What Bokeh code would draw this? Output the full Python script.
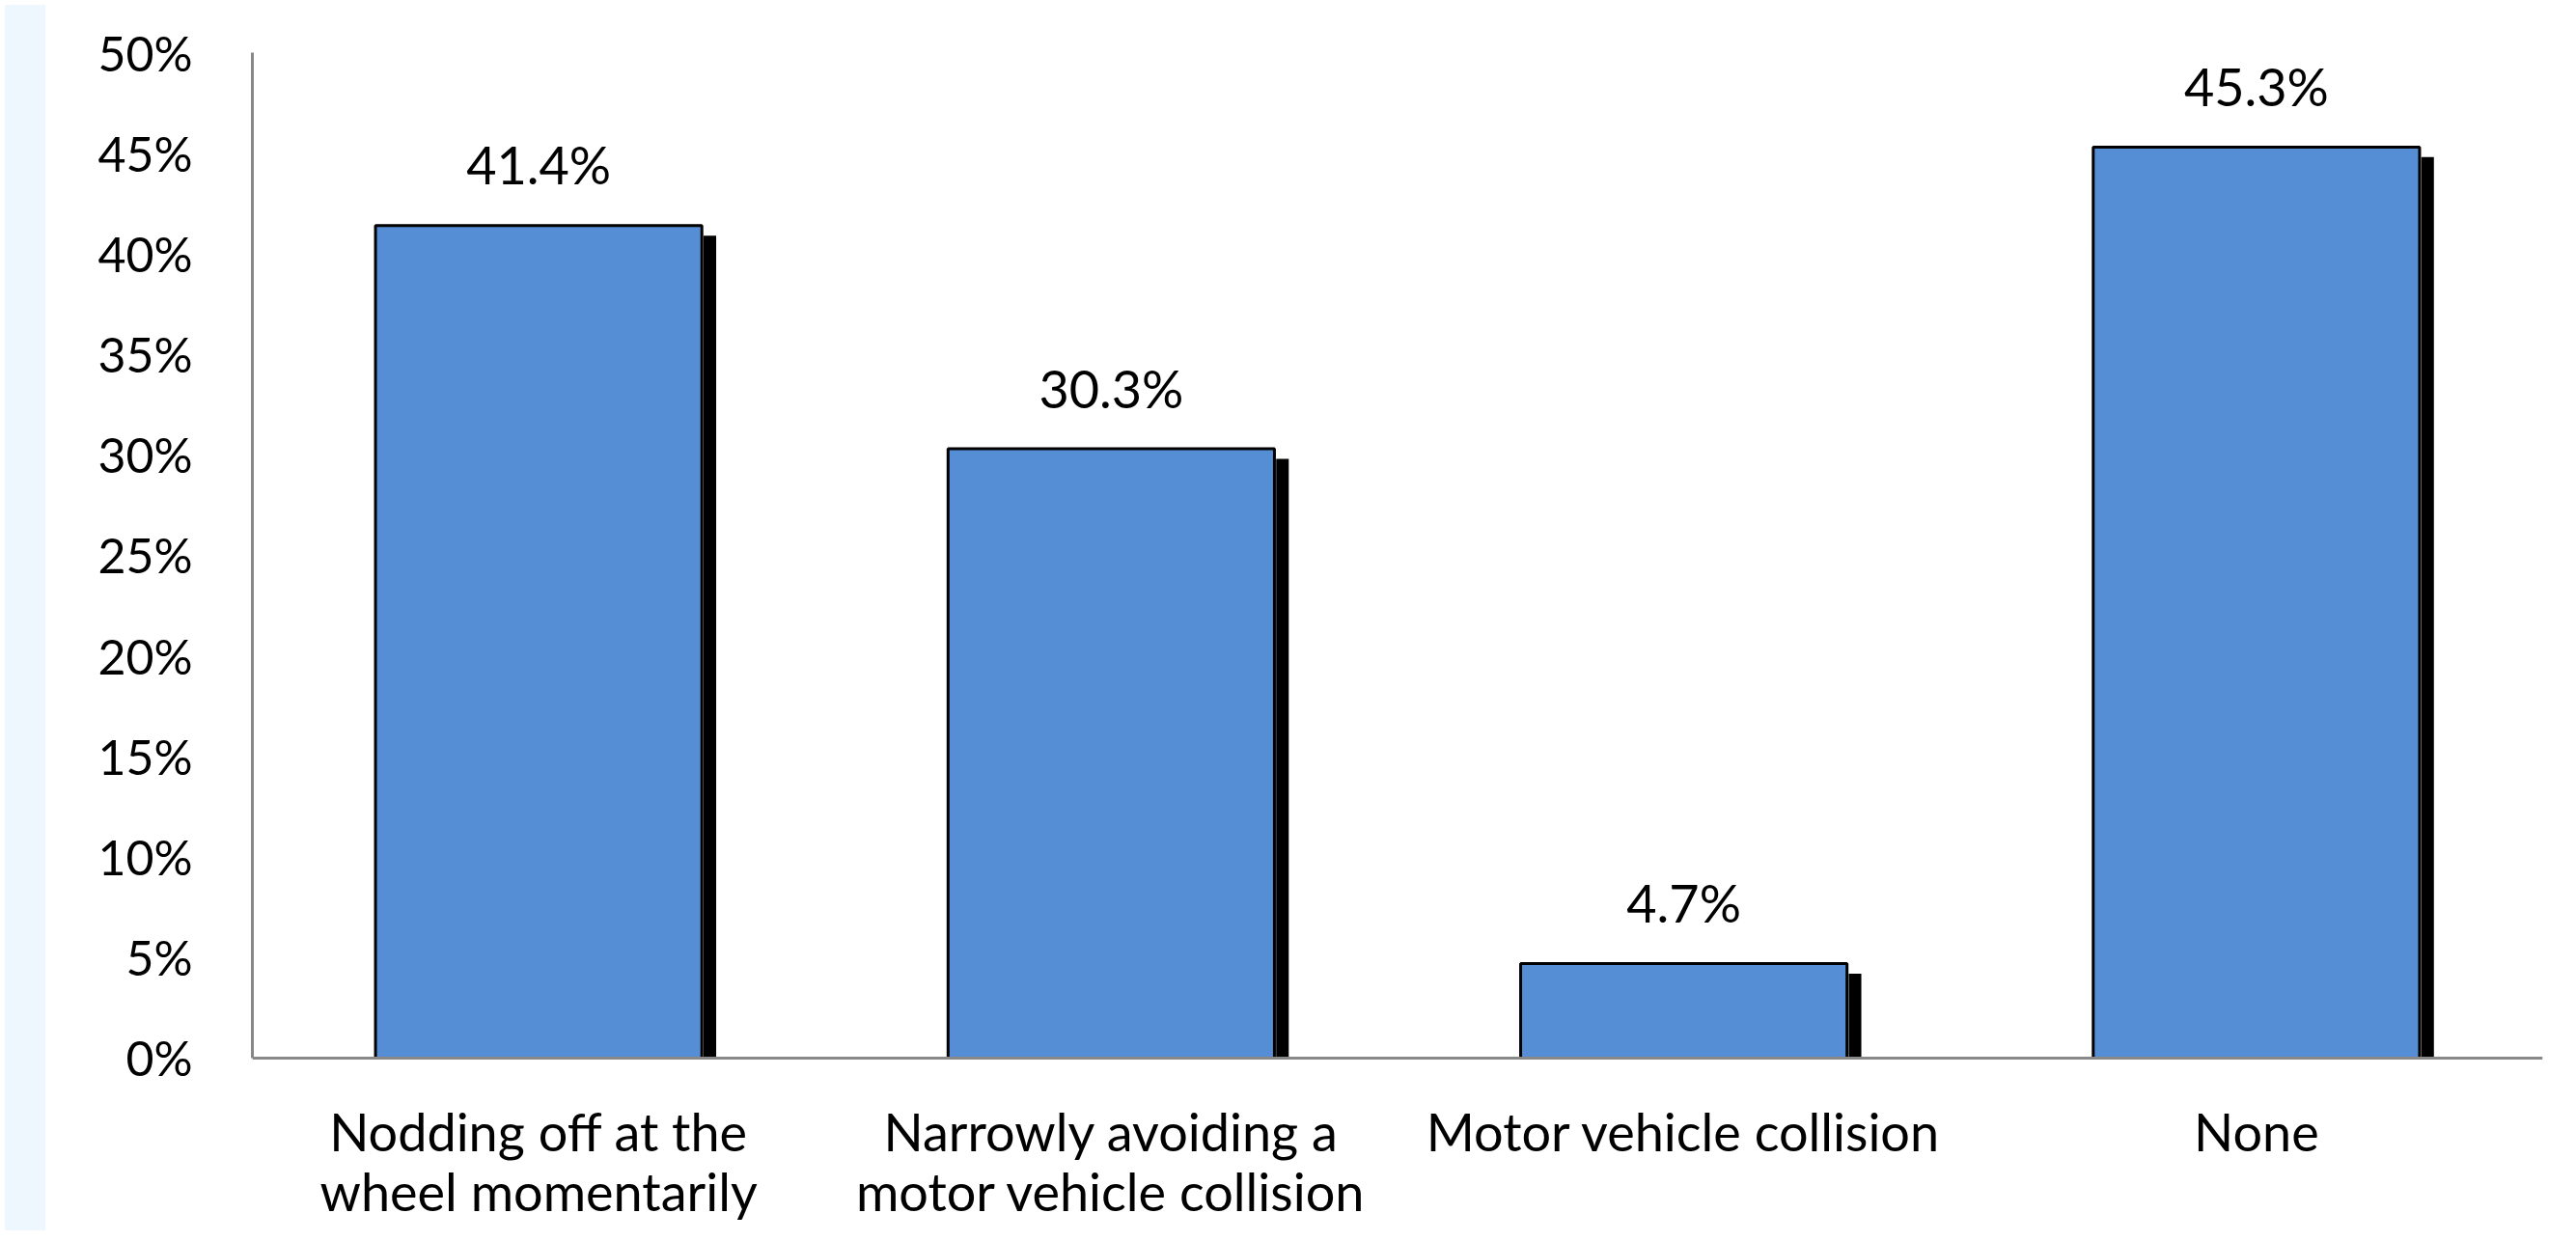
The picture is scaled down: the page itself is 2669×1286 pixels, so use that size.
from bokeh.plotting import figure
from bokeh.models import FactorRange, Range1d, ColumnDataSource, Div, NumeralTickFormatter, FixedTicker, Span
from bokeh.layouts import row
from bokeh.transform import dodge
from bokeh.core.properties import value
from bokeh.embed import file_html
from bokeh.resources import INLINE

categories = ["Nodding off at the\nwheel momentarily",
              "Narrowly avoiding a\nmotor vehicle collision",
              "Motor vehicle collision",
              "None"]
values = [41.4, 30.3, 4.7, 45.3]
labels = ["41.4%", "30.3%", "4.7%", "45.3%"]
y_ticks = [0, 5, 10, 15, 20, 25, 30, 35, 40, 45, 50]

FONT = "Lato"

src = ColumnDataSource(dict(cat=categories, val=values, lab=labels,
                            zero=[0] * len(values),
                            shadow=[v - 0.5 for v in values]))

p = figure(x_range=FactorRange(factors=categories, range_padding=0, factor_padding=0),
           y_range=Range1d(-8.35, 50),
           width=2611, height=1270, output_backend="svg", toolbar_location=None,
           min_border_left=209, min_border_right=29, min_border_top=54, min_border_bottom=0)
p.outline_line_color = None
p.background_fill_color = "white"
p.border_fill_color = "white"
p.xgrid.grid_line_color = None
p.ygrid.grid_line_color = None

# shadow strips
p.vbar(x=dodge("cat", 0.299, range=p.x_range), top="shadow", bottom=0, width=0.022,
       source=src, fill_color="black", line_color=None)
# bars
p.vbar(x="cat", top="val", bottom=0, width=0.57, source=src,
       fill_color="#558ED5", line_color="black", line_width=3)
# value labels
p.text(x="cat", y="val", text="lab", source=src, text_align="center",
       text_baseline="alphabetic", y_offset=-63, text_font=value(FONT),
       text_font_size="54px", text_color="black")
# category labels
p.text(x="cat", y="zero", text="cat", source=src, text_align="center",
       text_baseline="top", y_offset=44, text_font=value(FONT),
       text_font_size="54px", text_line_height=0.94, text_color="black")

# x axis line at 0
p.add_layout(Span(location=0, dimension="width", line_color="#888888", line_width=3))
p.xaxis.visible = False

p.yaxis.ticker = FixedTicker(ticks=y_ticks)
p.yaxis.bounds = (0, 50)
p.yaxis.formatter = NumeralTickFormatter(format="0")
p.yaxis.major_label_overrides = {t: f"{t}%" for t in y_ticks}
p.yaxis.axis_line_color = "#888888"
p.yaxis.axis_line_width = 3
p.yaxis.major_tick_line_color = None
p.yaxis.minor_tick_line_color = None
p.yaxis.major_label_text_font = FONT
p.yaxis.major_label_text_color = "black"
p.yaxis.major_label_text_font_size = "50px"
p.yaxis.major_label_standoff = 56

strip = Div(width=42, height=1270, styles={"background-color": "#EFF7FE"})
layout = row(strip, p, spacing=0)

open("out.html", "w").write(file_html(layout, INLINE))
